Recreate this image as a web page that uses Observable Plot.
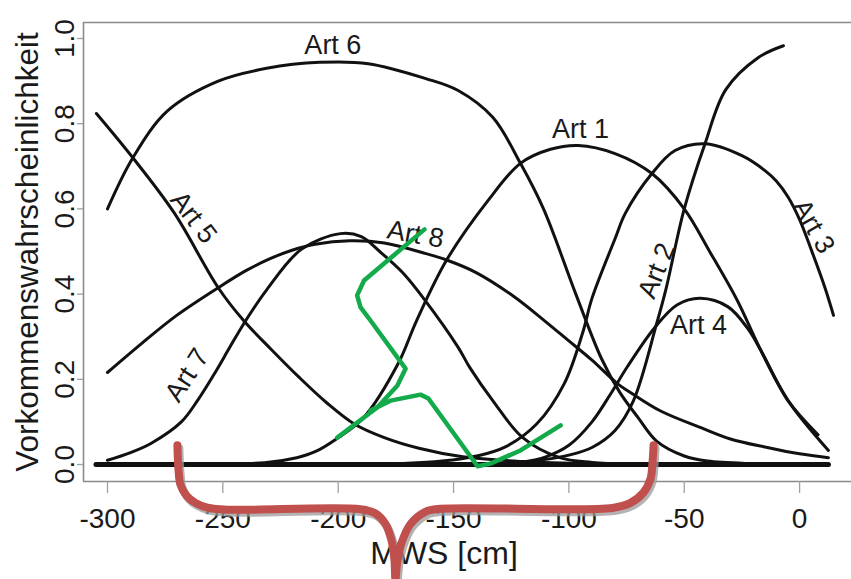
<!DOCTYPE html>
<html><head><meta charset="utf-8">
<script src="https://cdn.jsdelivr.net/npm/d3@7"></script>
<script src="https://cdn.jsdelivr.net/npm/@observablehq/plot@0.6"></script>
<style>body{margin:0;background:#fff;}</style>
</head><body><div id="chart"></div>
<script>
// ---- data ----
const xTicks = [-300, -250, -200, -150, -100, -50, 0];
const yTicks = [0, 0.2, 0.4, 0.6, 0.8, 1.0];
const xTitle = "MWS [cm]";
const yTitle = "Vorkommenswahrscheinlichkeit";

const art1_x = [-305, -270, -250, -232, -218, -210, -200, -189, -174, -166, -153, -135, -121, -108, -96, -80, -64, -50, -39, -27, -17, -5, 12.5];
const art1_y = [0, 0.001, 0.002, 0.004, 0.016, 0.03, 0.063, 0.11, 0.237, 0.338, 0.48, 0.62, 0.707, 0.74, 0.749, 0.73, 0.683, 0.60, 0.50, 0.385, 0.27, 0.15, 0.033];

const art2_x = [-305, -150, -130, -120, -110, -100, -90, -80, -72, -62, -58, -50, -41, -32, -18, -7];
const art2_y = [0, 0.001, 0.003, 0.006, 0.012, 0.022, 0.04, 0.08, 0.15, 0.33, 0.41, 0.60, 0.753, 0.88, 0.955, 0.983];

const art3_x = [-305, -170, -155, -140, -128, -114, -102, -94, -90, -80, -75.5, -64, -54, -41, -25, -15, -10, -5, 0, 5, 11, 14.7];
const art3_y = [0, 0.003, 0.008, 0.02, 0.04, 0.095, 0.19, 0.31, 0.39, 0.53, 0.59, 0.683, 0.737, 0.753, 0.725, 0.69, 0.665, 0.628, 0.575, 0.505, 0.415, 0.35];

const art4_x = [-305, -130, -120, -110, -100, -90, -82, -74.6, -63, -53, -43, -31, -22.6, -17, -5, 8];
const art4_y = [0, 0.002, 0.006, 0.018, 0.045, 0.10, 0.165, 0.23, 0.32, 0.375, 0.39, 0.37, 0.32, 0.27, 0.15, 0.07];

const art5_x = [-304.8, -289, -271, -252, -241, -229, -217, -205, -193, -180, -165, -146, -120, -90, -50, 12.5];
const art5_y = [0.824, 0.72, 0.59, 0.415, 0.338, 0.27, 0.205, 0.145, 0.095, 0.063, 0.038, 0.018, 0.007, 0.002, 0.001, 0];

const art6_x = [-300, -289, -274, -252, -231, -208, -187, -162, -148, -133, -121, -111, -97, -86, -78, -70, -62, -50, -40, -20, 12.5];
const art6_y = [0.60, 0.72, 0.83, 0.90, 0.93, 0.944, 0.941, 0.906, 0.878, 0.815, 0.707, 0.60, 0.40, 0.25, 0.17, 0.11, 0.055, 0.02, 0.008, 0.002, 0];

const art7_x = [-300, -290, -281, -268, -261, -254, -247, -241, -231, -216, -199, -190, -182, -172, -163, -148, -143, -133, -120, -104, -90, -70, 12.5];
const art7_y = [0.01, 0.028, 0.05, 0.10, 0.15, 0.21, 0.275, 0.33, 0.41, 0.505, 0.542, 0.535, 0.50, 0.45, 0.39, 0.275, 0.228, 0.15, 0.063, 0.016, 0.005, 0.001, 0];

const art8_x = [-300, -285, -270, -252, -240, -230, -220, -210, -195, -180, -162, -153, -140, -124, -110, -100, -90, -79, -73, -60, -43, -30, -14, 0, 12.5];
const art8_y = [0.216, 0.285, 0.35, 0.415, 0.455, 0.482, 0.503, 0.517, 0.525, 0.52, 0.495, 0.48, 0.45, 0.395, 0.335, 0.29, 0.245, 0.19, 0.168, 0.125, 0.087, 0.06, 0.04, 0.025, 0.016];

const zero_x = [-305, 12.5];
const zero_y = [0, 0];

// curve labels
const labelText = ["Art 1", "Art 2", "Art 3", "Art 4", "Art 5", "Art 6", "Art 7", "Art 8"];
const labelX = [-95, -62, 6, -43.8, -262.7, -202.3, -265.5, -166.5];
const labelY = [0.786, 0.455, 0.559, 0.326, 0.58, 0.983, 0.21, 0.54];
const labelAngle = [0, -68, 60, 0, 52, 0, -57, 10];

// green hand-drawn annotation
const green1_x = [-162.6, -188.8, -191.8, -190.3, -186, -170.8, -174.4, -183.1, -200.4];
const green1_y = [0.552, 0.432, 0.397, 0.369, 0.338, 0.225, 0.185, 0.134, 0.063];
const green2_x = [-186, -177.3, -164.3, -160.9, -139.6, -134, -121, -103.6];
const green2_y = [0.127, 0.150, 0.164, 0.155, -0.004, 0.002, 0.033, 0.092];

// red brace annotation
const brace_x = [-269.7, -269.2, -268.4, -265.8, -261.9, -256.7, -248.0, -190.3, -183.8, -179.5, -176.9, -175.6, -175.2,
                 -174.3, -172.6, -168.7, -162.2, -155.7, -81.1, -73.3, -67.7, -64.6, -63.8, -63.3];
const brace_y = [0.045, -0.014, -0.047, -0.073, -0.090, -0.101, -0.106, -0.105, -0.115, -0.140, -0.178, -0.225, -0.270,
                 -0.225, -0.185, -0.140, -0.111, -0.104, -0.102, -0.090, -0.066, -0.033, 0.002, 0.045];

const xDomain = [-310.4, 22.5];
const yDomain = [-0.0399, 1.0376];

// ---- build tables ----
const seriesX = [art1_x, art2_x, art3_x, art4_x, art5_x, art6_x, art7_x, art8_x];
const seriesY = [art1_y, art2_y, art3_y, art4_y, art5_y, art6_y, art7_y, art8_y];
const lines = [];
seriesX.forEach((xs, k) => xs.forEach((x, i) => lines.push({name: labelText[k], x, y: seriesY[k][i]})));
const zero = zero_x.map((x, i) => ({x, y: zero_y[i]}));
const labels = labelText.map((t, i) => ({t, x: labelX[i], y: labelY[i], a: labelAngle[i]}));
const green = [
  ...green1_x.map((x, i) => ({g: 1, x, y: green1_y[i]})),
  ...green2_x.map((x, i) => ({g: 2, x, y: green2_y[i]}))
];
const brace = brace_x.map((x, i) => ({x, y: brace_y[i]}));

const font = "'Liberation Sans', Arial, Helvetica, sans-serif";
const frameColor = "#8a8a8a";

const chart = Plot.plot({
  width: 851, height: 579,
  marginLeft: 83, marginRight: 0, marginTop: 22, marginBottom: 98,
  style: {fontFamily: font, background: "white", overflow: "visible"},
  x: {domain: xDomain},
  y: {domain: yDomain},
  marks: [
    Plot.ruleY([yDomain[1]], {stroke: frameColor, strokeWidth: 1.6}),
    Plot.ruleY([yDomain[0]], {stroke: frameColor, strokeWidth: 1.6}),
    Plot.ruleX([xDomain[0]], {stroke: frameColor, strokeWidth: 1.6}),
    Plot.axisX({ticks: xTicks, tickSize: 12, tickPadding: 15, fontSize: 28, stroke: "#a0a0a0", strokeWidth: 1.3,
                fill: "#1a1a1a", tickFormat: d => String(d), label: null}),
    Plot.axisY({ticks: yTicks, tickSize: 6, tickPadding: 4, tickRotate: -90, fontSize: 28, stroke: "#a0a0a0", strokeWidth: 1.3,
                fill: "#1a1a1a", tickFormat: d3.format(".1f"), label: null}),
    Plot.line(zero, {x: "x", y: "y", stroke: "#111", strokeWidth: 5}),
    Plot.line(lines, {x: "x", y: "y", z: "name", stroke: "#111", strokeWidth: 3, curve: "catmull-rom", strokeLinecap: "round"}),
    Plot.text(labels, {x: "x", y: "y", text: "t", rotate: "a", fontSize: 27, fill: "#1a1a1a"}),
    Plot.text([xTitle], {frameAnchor: "bottom", text: d => d, textAnchor: "middle", lineAnchor: "middle", dx: -23.5, dy: 72, fontSize: 32, fill: "#1a1a1a"}),
    Plot.text([yTitle], {frameAnchor: "left", text: d => d, textAnchor: "middle", lineAnchor: "middle", dx: -56, rotate: -90, fontSize: 31.5, fill: "#1a1a1a"}),
    Plot.line(green, {x: "x", y: "y", z: "g", stroke: "#12aa4a", strokeWidth: 4.5, strokeLinejoin: "round", strokeLinecap: "round", curve: "linear"}),
    Plot.line(brace, {x: "x", y: "y", stroke: "#9a9a9a", strokeOpacity: 0.75, strokeWidth: 8, dx: 2, dy: 3, curve: "catmull-rom"}),
    Plot.line(brace, {x: "x", y: "y", stroke: "#c0504d", strokeWidth: 8, curve: "catmull-rom"})
  ]
});
document.getElementById("chart").appendChild(chart);
</script>
</body></html>
